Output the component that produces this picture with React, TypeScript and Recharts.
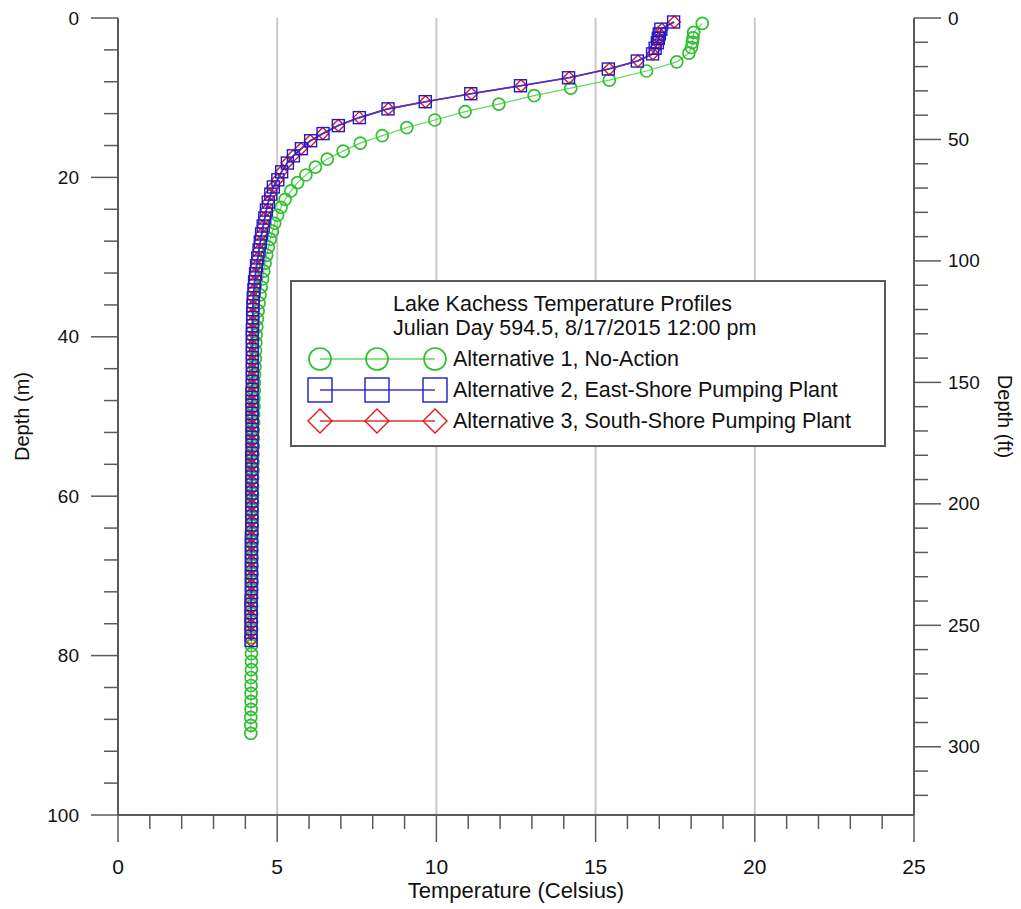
import React from 'react';
import { ScatterChart, Scatter, XAxis, YAxis, ReferenceLine, Legend } from 'recharts';

// Depth (m) / temperature (C) profiles
const depthAlt1 = [
  0.67, 1.8, 2.5, 3.05, 3.7, 4.4, 5.5, 6.65, 7.8, 8.8, 9.75, 10.8, 11.75, 12.8, 13.75, 14.75,
  15.7, 16.7, 17.7, 18.7, 19.7, 20.65, 21.7, 22.75, 23.75, 24.75, 25.75, 26.75, 27.75, 28.75,
  29.75, 30.75, 31.75, 32.75, 33.75, 34.75, 35.75, 36.75, 37.75, 38.75, 39.75, 40.75, 41.75,
  42.75, 43.75, 44.75, 45.75, 46.75, 47.75, 48.75, 49.75, 50.75, 51.75, 52.75, 53.75, 54.75,
  55.75, 56.75, 57.75, 58.75, 59.75, 60.75, 61.75, 62.75, 63.75, 64.75, 65.75, 66.75, 67.75,
  68.75, 69.75, 70.75, 71.75, 72.75, 73.75, 74.75, 75.75, 76.75, 77.75, 78.75, 79.75, 80.75,
  81.75, 82.75, 83.75, 84.75, 85.75, 86.75, 87.75, 88.75, 89.75,
];
const tempAlt1 = [
  18.35, 18.08, 18.06, 18.04, 18.01, 17.93, 17.55, 16.6, 15.43, 14.22, 13.07, 11.96, 10.9, 9.95,
  9.07, 8.3, 7.61, 7.07, 6.57, 6.2, 5.9, 5.64, 5.43, 5.25, 5.12, 5.01, 4.92, 4.85, 4.78, 4.72,
  4.67, 4.62, 4.58, 4.54, 4.5, 4.46, 4.43, 4.4, 4.38, 4.36, 4.34, 4.33, 4.32, 4.31, 4.3, 4.29,
  4.28, 4.28, 4.27, 4.27, 4.26, 4.26, 4.25, 4.25, 4.25, 4.24, 4.24, 4.24, 4.23, 4.23, 4.23, 4.23,
  4.22, 4.22, 4.22, 4.22, 4.22, 4.21, 4.21, 4.21, 4.21, 4.21, 4.2, 4.2, 4.2, 4.2, 4.2, 4.2, 4.19,
  4.19, 4.19, 4.19, 4.19, 4.18, 4.18, 4.18, 4.18, 4.18, 4.17, 4.17, 4.17,
];

const depthAlt23 = [
  0.5, 1.4, 2.0, 2.55, 3.1, 3.8, 4.5, 5.4, 6.4, 7.5, 8.5, 9.5, 10.5, 11.4, 12.5, 13.5, 14.5, 15.4,
  16.4, 17.3, 18.2, 19.3, 20.3, 21.2, 22.1, 23.1, 24.1, 25.1, 26.1, 27.1, 28.1, 29.1, 30.1, 31.1,
  32.1, 33.1, 34.1, 35.1, 36.1, 37.1, 38.1, 39.1, 40.1, 41.1, 42.1, 43.1, 44.1, 45.1, 46.1, 47.1,
  48.1, 49.1, 50.1, 51.1, 52.1, 53.1, 54.1, 55.1, 56.1, 57.1, 58.1, 59.1, 60.1, 61.1, 62.1, 63.1,
  64.1, 65.1, 66.1, 67.1, 68.1, 69.1, 70.1, 71.1, 72.1, 73.1, 74.1, 75.1, 76.1, 77.1, 78.1,
];
const tempAlt2 = [
  17.45, 17.05, 17.0, 16.97, 16.94, 16.87, 16.79, 16.31, 15.4, 14.15, 12.64, 11.08, 9.65, 8.48,
  7.58, 6.92, 6.44, 6.05, 5.76, 5.51, 5.32, 5.14, 5.02, 4.88, 4.8, 4.72, 4.66, 4.61, 4.56, 4.51,
  4.47, 4.43, 4.39, 4.35, 4.32, 4.29, 4.27, 4.25, 4.24, 4.23, 4.23, 4.22, 4.22, 4.22, 4.22, 4.22,
  4.22, 4.22, 4.22, 4.21, 4.21, 4.21, 4.21, 4.21, 4.21, 4.21, 4.21, 4.2, 4.2, 4.2, 4.2, 4.2, 4.2,
  4.2, 4.2, 4.2, 4.2, 4.19, 4.19, 4.19, 4.19, 4.19, 4.19, 4.19, 4.19, 4.18, 4.18, 4.18, 4.18,
  4.18, 4.18,
];
const tempAlt3 = [
  17.47, 17.08, 17.02, 16.99, 16.95, 16.88, 16.8, 16.33, 15.43, 14.17, 12.66, 11.1, 9.66, 8.49,
  7.58, 6.92, 6.43, 6.04, 5.75, 5.5, 5.31, 5.13, 5.01, 4.87, 4.79, 4.72, 4.66, 4.61, 4.56, 4.51,
  4.47, 4.43, 4.39, 4.35, 4.32, 4.29, 4.27, 4.25, 4.24, 4.23, 4.23, 4.22, 4.22, 4.22, 4.22, 4.22,
  4.22, 4.22, 4.22, 4.21, 4.21, 4.21, 4.21, 4.21, 4.21, 4.21, 4.21, 4.2, 4.2, 4.2, 4.2, 4.2, 4.2,
  4.2, 4.2, 4.2, 4.2, 4.19, 4.19, 4.19, 4.19, 4.19, 4.19, 4.19, 4.19, 4.18, 4.18, 4.18, 4.18,
  4.18, 4.18,
];

const tempTicks = [0, 1, 2, 3, 4, 5, 6, 7, 8, 9, 10, 11, 12, 13, 14, 15, 16, 17, 18, 19, 20, 21, 22, 23, 24, 25];
const gridTemps = [5, 10, 15, 20];
const depthMTicks = [0, 4, 8, 12, 16, 20, 24, 28, 32, 36, 40, 44, 48, 52, 56, 60, 64, 68, 72, 76, 80, 84, 88, 92, 96, 100];
const depthFtTicks = [0, 10, 20, 30, 40, 50, 60, 70, 80, 90, 100, 110, 120, 130, 140, 150, 160, 170, 180, 190, 200, 210, 220, 230, 240, 250, 260, 270, 280, 290, 300, 310, 320];
const FT_PER_M = 3.28084;

const TITLE_1 = 'Lake Kachess Temperature Profiles';
const TITLE_2 = 'Julian Day 594.5, 8/17/2015 12:00 pm';

const toPoints = (depths: number[], temps: number[]) => depths.map((d, i) => ({ t: temps[i], d }));

const AXIS = '#5a5a5a';
const FONT = '"Liberation Sans", Arial, sans-serif';
const NARROW = '"Liberation Sans Narrow", "Liberation Sans", Arial, sans-serif';

const GREEN = '#2fbf2f';
const BLUE = '#1c1ccc';
const RED = '#e81414';

const Circle = (r: number) => (p: any) => (
  <circle cx={p.cx} cy={p.cy} r={r} fill="none" stroke={GREEN} strokeWidth={1.7} />
);
const Square = (h: number) => (p: any) => (
  <rect x={p.cx - h} y={p.cy - h} width={2 * h} height={2 * h} fill="none" stroke={BLUE} strokeWidth={1.4} />
);
const Diamond = (h: number) => (p: any) => (
  <polygon
    points={`${p.cx},${p.cy - h} ${p.cx + h},${p.cy} ${p.cx},${p.cy + h} ${p.cx - h},${p.cy}`}
    fill="none"
    stroke={RED}
    strokeWidth={1.4}
  />
);

const series = [
  { name: 'Alternative 1, No-Action', color: GREEN, lineColor: '#62d862', shape: Circle },
  { name: 'Alternative 2, East-Shore Pumping Plant', color: BLUE, lineColor: '#4433cc', shape: Square },
  { name: 'Alternative 3, South-Shore Pumping Plant', color: RED, lineColor: '#e03030', shape: Diamond },
];
// alt 3 is drawn before alt 2 so the blue line sits on top, as in the original
const drawOrder = [0, 2, 1];

const LeftTick = (props: any) => {
  const { x, y, payload } = props;
  const major = payload.value % 20 === 0;
  return (
    <g>
      <line x1={x - (major ? 27 : 14)} x2={x} y1={y} y2={y} stroke={AXIS} strokeWidth={1.5} />
      {major && (
        <text x={x - 39} y={y} textAnchor="end" dominantBaseline="central" fontFamily={FONT} fontSize={19} fill="#111">
          {payload.value}
        </text>
      )}
    </g>
  );
};

const RightTick = (props: any) => {
  const { x, y, payload } = props;
  const major = payload.value % 50 === 0;
  return (
    <g>
      <line x1={x} x2={x + (major ? 27 : 14)} y1={y} y2={y} stroke={AXIS} strokeWidth={1.5} />
      {major && (
        <text x={x + 34} y={y} textAnchor="start" dominantBaseline="central" fontFamily={FONT} fontSize={19} fill="#111">
          {payload.value}
        </text>
      )}
    </g>
  );
};

const BottomTick = (props: any) => {
  const { x, y, payload } = props;
  const major = payload.value % 5 === 0;
  return (
    <g>
      <line x1={x} x2={x} y1={y} y2={y + (major ? 27 : 14)} stroke={AXIS} strokeWidth={1.5} />
      {major && (
        <text x={x} y={y + 51} textAnchor="middle" dominantBaseline="central" fontFamily={NARROW} fontSize={21} fill="#111">
          {payload.value}
        </text>
      )}
    </g>
  );
};

const LegendBox = () => (
  <div style={{ width: 596, height: 167, boxSizing: 'border-box', border: `2px solid ${AXIS}`, background: '#fff' }}>
    <svg width={592} height={163} style={{ display: 'block' }} fontFamily={FONT} fontSize={21.5} fill="#111">
      <text x={101} y={22} dominantBaseline="central">{TITLE_1}</text>
      <text x={101} y={46} dominantBaseline="central">{TITLE_2}</text>
      {series.map((s, i) => {
        const cy = 77 + i * 31;
        const mark = s.shape(i === 0 ? 11 : 12);
        return (
          <g key={s.name}>
            <line x1={28} x2={143} y1={cy} y2={cy} stroke={s.lineColor} strokeWidth={1.3} />
            {[28, 85, 143].map((cx) => (
              <g key={cx}>{mark({ cx, cy })}</g>
            ))}
            <text x={161} y={cy} dominantBaseline="central">{s.name}</text>
          </g>
        );
      })}
    </svg>
  </div>
);

export default function App() {
  const data = [
    toPoints(depthAlt1, tempAlt1),
    toPoints(depthAlt23, tempAlt2),
    toPoints(depthAlt23, tempAlt3),
  ];
  return (
    <div style={{ width: 1021, height: 909, background: '#fff' }}>
      <style>{'body{margin:0;background:#fff}'}</style>
      <ScatterChart width={1021} height={909} margin={{ top: 18, right: 0, bottom: 0, left: 0 }}>
        {gridTemps.map((v) => (
          <ReferenceLine key={v} x={v} yAxisId="m" stroke="#c9c9c9" strokeWidth={2} />
        ))}
        <XAxis
          type="number"
          dataKey="t"
          domain={[0, 25]}
          ticks={tempTicks}
          interval={0}
          height={94}
          tickSize={0}
          tickMargin={0}
          tickLine={false}
          tick={<BottomTick />}
          axisLine={{ stroke: AXIS, strokeWidth: 2 }}
          label={{
            value: 'Temperature (Celsius)',
            position: 'insideBottom',
            offset: 11,
            style: { fontFamily: NARROW, fontSize: 22, fill: '#111' },
          }}
        />
        <YAxis
          yAxisId="m"
          type="number"
          dataKey="d"
          domain={[0, 100]}
          reversed
          ticks={depthMTicks}
          interval={0}
          width={118}
          tickSize={0}
          tickMargin={0}
          tickLine={false}
          tick={<LeftTick />}
          axisLine={{ stroke: AXIS, strokeWidth: 2 }}
          label={{
            value: 'Depth (m)',
            angle: -90,
            position: 'insideLeft',
            offset: 22,
            style: { textAnchor: 'middle', fontFamily: NARROW, fontSize: 20, fill: '#111' },
          }}
        />
        <YAxis
          yAxisId="ft"
          orientation="right"
          type="number"
          domain={[0, 100 * FT_PER_M]}
          allowDataOverflow
          reversed
          ticks={depthFtTicks}
          interval={0}
          width={107}
          tickSize={0}
          tickMargin={0}
          tickLine={false}
          tick={<RightTick />}
          axisLine={{ stroke: AXIS, strokeWidth: 2 }}
          label={{
            value: 'Depth (ft)',
            angle: 90,
            position: 'insideRight',
            offset: 16,
            style: { textAnchor: 'middle', fontFamily: NARROW, fontSize: 20, fill: '#111' },
          }}
        />
        <Legend
          layout="vertical"
          align="center"
          verticalAlign="middle"
          wrapperStyle={{ left: 290, top: 280, width: 596 }}
          content={() => <LegendBox />}
        />
        {drawOrder.map((i) => {
          const s = series[i];
          return (
            <Scatter
              key={s.name}
              name={s.name}
              yAxisId="m"
              data={data[i]}
              line={{ stroke: s.lineColor, strokeWidth: i === 0 ? 1.2 : 1.6 }}
              shape={s.shape(6)}
              isAnimationActive={false}
            />
          );
        })}
      </ScatterChart>
    </div>
  );
}
